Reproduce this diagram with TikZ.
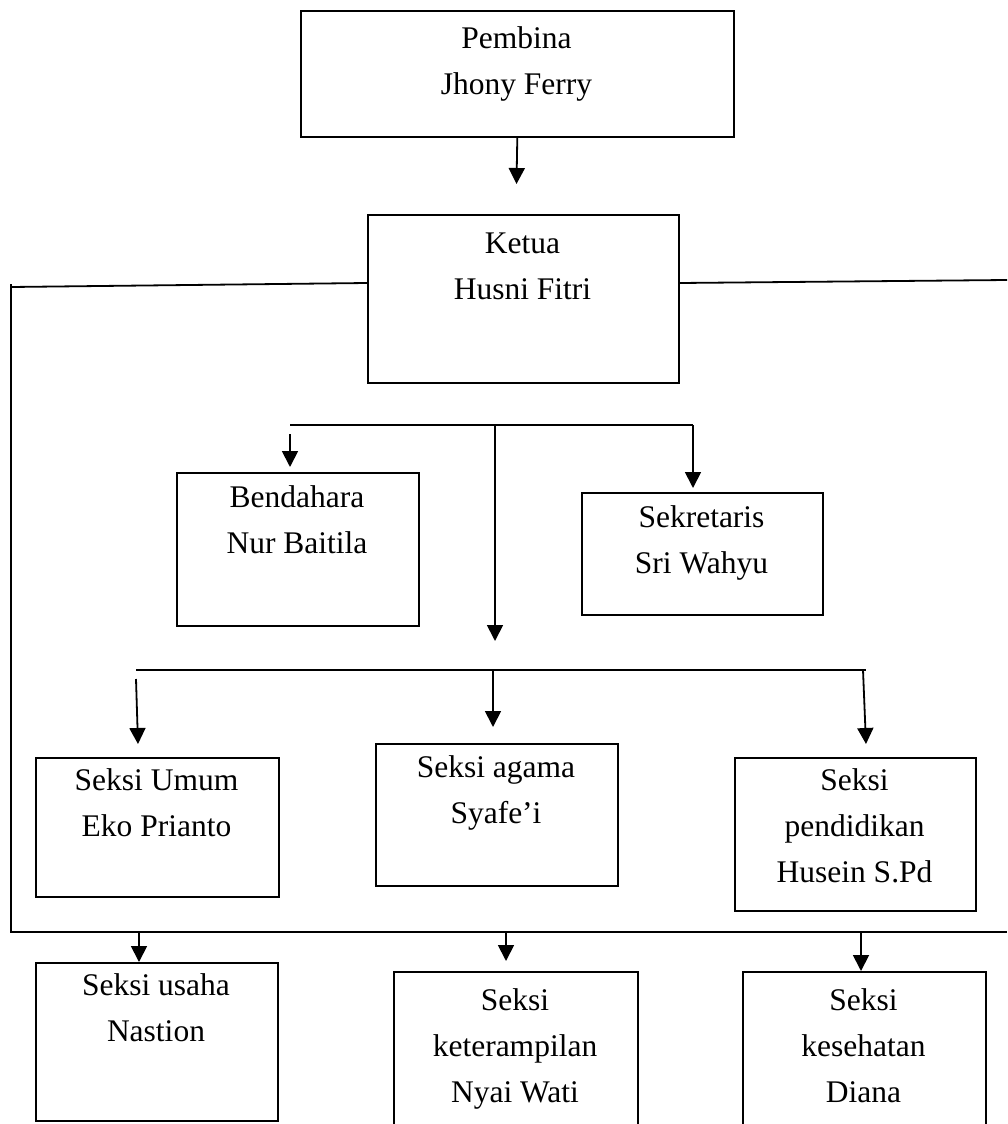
\documentclass[tikz,border=0pt]{standalone}
\usepackage{fontspec}
\setmainfont{Liberation Serif}
\usetikzlibrary{arrows.meta}
\begin{document}
\begin{tikzpicture}[x=1pt,y=-1pt,
  box/.style={draw,line width=1.6pt,rectangle,inner sep=0pt,anchor=north west},
  lbl/.style={anchor=north,inner sep=0pt,align=center,font=\fontsize{31.5}{46}\selectfont},
  ln/.style={line width=1.8pt},
  arr/.style={ln,-{Triangle[length=16pt,width=16pt]}}]
\useasboundingbox (0,0) rectangle (1007,1124);
\clip (0,0) rectangle (1007,1124);
\fill[white] (0,0) rectangle (1007,1124);
% boxes
\node[box,minimum width=433pt,minimum height=126pt] (pembina) at (300,10) {};
\node[box,minimum width=311pt,minimum height=168pt] (ketua) at (367,214) {};
\node[box,minimum width=242pt,minimum height=153pt] (bendahara) at (176,472) {};
\node[box,minimum width=241pt,minimum height=122pt] (sekretaris) at (581,492) {};
\node[box,minimum width=243pt,minimum height=139pt] (umum) at (35,757) {};
\node[box,minimum width=242pt,minimum height=142pt] (agama) at (375,743) {};
\node[box,minimum width=241pt,minimum height=153pt] (pendidikan) at (734,757) {};
\node[box,minimum width=242pt,minimum height=158pt] (usaha) at (35,962) {};
\node[box,minimum width=244pt,minimum height=200pt] (keterampilan) at (393,971) {};
\node[box,minimum width=243pt,minimum height=200pt] (kesehatan) at (742,971) {};
% labels
\node[lbl] (pembinat) at (516.5,23) {\rule{0pt}{25pt}Pembina\\Jhony Ferry};
\node[lbl] (ketuat) at (522.5,228) {\rule{0pt}{25pt}Ketua\\Husni Fitri};
\node[lbl] (bendaharat) at (297,482) {\rule{0pt}{25pt}Bendahara\\Nur Baitila};
\node[lbl] (sekretarist) at (701.5,502) {\rule{0pt}{25pt}Sekretaris\\Sri Wahyu};
\node[lbl] (umumt) at (156.5,765) {\rule{0pt}{25pt}Seksi Umum\\Eko Prianto};
\node[lbl] (agamat) at (496,752) {\rule{0pt}{25pt}Seksi agama\\Syafe’i};
\node[lbl] (pendidikant) at (854.5,765) {\rule{0pt}{25pt}Seksi\\pendidikan\\Husein S.Pd};
\node[lbl] (usahat) at (156,970) {\rule{0pt}{25pt}Seksi usaha\\Nastion};
\node[lbl] (keterampilant) at (515,985) {\rule{0pt}{25pt}Seksi\\keterampilan\\Nyai Wati};
\node[lbl] (kesehatant) at (863.5,985) {\rule{0pt}{25pt}Seksi\\kesehatan\\Diana};
% coordinates
\coordinate (c1) at (516.5,184);
\coordinate (ltop) at (11,287);
\coordinate (lvt) at (11,284);
\coordinate (lbot) at (11,932);
\coordinate (rbot) at (1007,932);
\coordinate (rtop) at (1007,280);
\coordinate (b1l) at (290,425);
\coordinate (b1r) at (693,425);
\coordinate (b1m) at (495,425);
\coordinate (a1s) at (290,434);
\coordinate (a1e) at (290,467);
\coordinate (a2e) at (693,488);
\coordinate (a3e) at (495,641);
\coordinate (b2l) at (136,670);
\coordinate (b2r) at (866,670);
\coordinate (a4s) at (136,679);
\coordinate (a4e) at (138,744);
\coordinate (a5s) at (493,670);
\coordinate (a5e) at (493,727);
\coordinate (a6s) at (863,670);
\coordinate (a6e) at (866,744);
\coordinate (a7s) at (139,932);
\coordinate (a8s) at (506,932);
\coordinate (a8e) at (506,961);
\coordinate (a9s) at (861,932);
% connectors
\draw[arr] (pembina.south) -- (c1);
\draw[ln] ([yshift=-69pt]ketua.north west) -- (ltop);
\draw[ln] (lvt) -- (lbot) -- (rbot);
\draw[ln] ([yshift=-69pt]ketua.north east) -- (rtop);
\draw[ln] (b1l) -- (b1r);
\draw[arr] (a1s) -- (a1e);
\draw[arr] (b1r) -- (a2e);
\draw[arr] (b1m) -- (a3e);
\draw[ln] (b2l) -- (b2r);
\draw[arr] (a4s) -- (a4e);
\draw[arr] (a5s) -- (a5e);
\draw[arr] (a6s) -- (a6e);
\draw[arr] (a7s) -- (usaha.north -| a7s);
\draw[arr] (a8s) -- (a8e);
\draw[arr] (a9s) -- (kesehatan.north -| a9s);
\end{tikzpicture}
\end{document}
